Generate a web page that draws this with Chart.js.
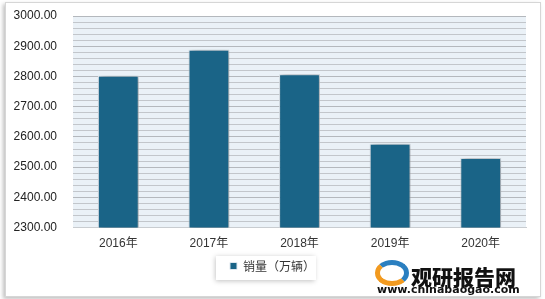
<!DOCTYPE html>
<html>
<head>
<meta charset="utf-8">
<script src="https://cdn.jsdelivr.net/npm/chart.js@4"></script>
<style>
  html, body { margin: 0; padding: 0; background: #ffffff; width: 545px; height: 299px; overflow: hidden; }
  .frame {
    position: absolute; left: 5px; top: 2px; width: 534px; height: 293px;
    background: #fff; border: 1px solid #d6d6d6;
    box-shadow: -2px 2px 4px rgba(0,0,0,0.25);
  }
  #wrap { position: absolute; left: 0; top: 0; width: 545px; height: 299px; }
  .mark { position: absolute; font-family: "Noto Sans CJK SC", sans-serif; font-weight: 900; color: #111; }
  .mark.big { left: 411px; top: 263px; font-size: 21px; line-height: 26px; }
  .mark.url { left: 377px; top: 284px; font-size: 11px; font-family: "DejaVu Sans", sans-serif; font-weight: bold; line-height: 12px; }
  .logo { position: absolute; left: 375px; top: 260px; width: 34px; height: 26px; border-radius: 50%;
          border: 5px solid #f29a1f; border-right-color: #2a7fc0; border-top-color: #2a7fc0; box-sizing: border-box; }
</style>
</head>
<body>
<div class="frame"></div>
<div id="wrap"><canvas id="salesChart"></canvas></div>
<div class="logo"></div>
<div class="mark big">观研报告网</div>
<div class="mark url">www.chinabaogao.com</div>
<script>
// 销量（万辆）by year
const years = ['2016年', '2017年', '2018年', '2019年', '2020年'];
const sales = [2802, 2888, 2807, 2577, 2530];
const yMin = 2300;
const yMax = 3000;

// light plot background
const plotBackground = {
    id: 'plotBackground',
    beforeDraw(chart) {
        const a = chart.chartArea;
        const ctx = chart.ctx;
        ctx.save();
        ctx.fillStyle = '#eaf1f7';
        ctx.fillRect(a.left, a.top, a.right - a.left, a.bottom - a.top);
        ctx.restore();
    }
};

// soft shadow behind bars
const barShadow = {
    id: 'barShadow',
    beforeDatasetsDraw(chart) {
        const ctx = chart.ctx;
        ctx.save();
        ctx.shadowColor = 'rgba(0,0,0,0.35)';
        ctx.shadowBlur = 6;
        ctx.shadowOffsetX = 2;
        ctx.shadowOffsetY = 0;
    },
    afterDatasetsDraw(chart) {
        chart.ctx.restore();
    }
};

// centre the legend on the whole canvas (layout padding on the right shifts it)
// and put a white box with a shadow behind it
const legendBox = {
    id: 'legendBox',
    afterLayout(chart) {
        const lg = chart.legend;
        if (!lg) return;
        const shift = chart.options.layout.padding.right / 2;
        lg.left += shift;
        lg.right += shift;
    },
    beforeDraw(chart) {
        const lg = chart.legend;
        if (!lg) return;
        const ctx = chart.ctx;
        const item = lg.legendHitBoxes[0];
        if (!item) return;
        const x = item.left - 14, y = item.top - 4, w = item.width + 15, h = item.height + 12;
        ctx.save();
        ctx.shadowColor = 'rgba(0,0,0,0.25)';
        ctx.shadowBlur = 5;
        ctx.shadowOffsetX = -1;
        ctx.shadowOffsetY = 1;
        ctx.fillStyle = '#ffffff';
        ctx.fillRect(x, y, w, h);
        ctx.restore();
    }
};

const ctx = document.getElementById('salesChart').getContext('2d');

new Chart(ctx, {
    type: 'bar',
    data: {
        labels: years,
        datasets: [{
            label: '销量（万辆）',
            data: sales,
            backgroundColor: '#1a6487',
            borderColor: '#dfe8ef',
            borderWidth: 1,
            barPercentage: 0.9,
            categoryPercentage: 0.5
        }]
    },
    options: {
        responsive: true,
        maintainAspectRatio: false,
        animation: false,
        layout: {
            padding: { left: 0, right: 19, top: 16, bottom: 17 }
        },
        plugins: {
            legend: {
                display: true,
                position: 'bottom',
                labels: {
                    boxWidth: 7,
                    boxHeight: 7,
                    padding: 0,
                    color: '#333',
                    font: { size: 12, family: '"Noto Sans CJK SC", sans-serif' }
                }
            },
            tooltip: { enabled: false }
        },
        scales: {
            x: {
                grid: { display: false, drawTicks: false },
                border: { display: true, color: '#c8ccd0' },
                ticks: {
                    color: '#333',
                    padding: 9,
                    font: { size: 12, family: '"Liberation Sans", "Noto Sans CJK SC", sans-serif' }
                }
            },
            y: {
                min: yMin,
                max: yMax,
                afterFit(scale) { scale.width = 73; },
                grid: {
                    drawTicks: true,
                    tickLength: 13,
                    tickColor: 'rgba(0,0,0,0)',
                    color: function(c) {
                        return Math.round(c.tick.value) % 100 === 0 ? '#b4b8bd' : '#c2c6cb';
                    },
                    lineWidth: 1
                },
                border: { display: false },
                ticks: {
                    stepSize: 20,
                    autoSkip: false,
                    padding: 3,
                    color: '#222',
                    font: { size: 12, family: '"Liberation Sans", sans-serif' },
                    callback: function(value) {
                        const v = Math.round(value);
                        return v % 100 === 0 ? v.toFixed(2) : '';
                    }
                }
            }
        }
    },
    plugins: [plotBackground, barShadow, legendBox]
});
</script>
</body>
</html>
